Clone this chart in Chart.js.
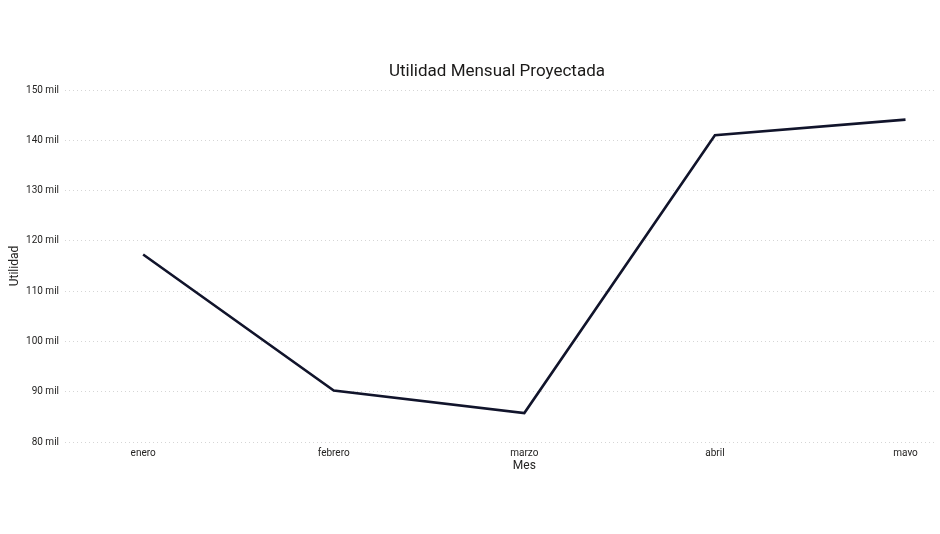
<!DOCTYPE html>
<html>
<head>
<meta charset="utf-8">
<script src="https://cdn.jsdelivr.net/npm/chart.js@4.4.1/dist/chart.umd.min.js"></script>
<style>
html,body{margin:0;padding:0;background:#fff;}
#wrap{width:940px;height:534px;position:relative;}
</style>
</head>
<body>
<div id="wrap"><canvas id="c" width="940" height="534"></canvas></div>
<script>
const months = ["enero", "febrero", "marzo", "abril", "mayo"];
const utilidad = [117300, 90250, 85750, 141000, 144100];
const yTicks = [80000, 90000, 100000, 110000, 120000, 130000, 140000, 150000];
const chartTitle = 'Utilidad Mensual Proyectada';
const xTitle = 'Mes';

const points = months.map((m, i) => ({ x: i, y: utilidad[i] }));

const titlesPlugin = {
  id: 'titles',
  afterDraw(chart) {
    const { ctx, chartArea } = chart;
    ctx.save();
    ctx.textAlign = 'center';
    ctx.textBaseline = 'middle';
    ctx.fillStyle = '#1b1a19';
    ctx.font = '17px Roboto';
    ctx.fillText(chartTitle, 497, chartArea.top - 18);
    ctx.fillStyle = '#252423';
    ctx.font = '12px Roboto';
    ctx.fillText(xTitle, chart.scales.x.getPixelForValue(2), chartArea.bottom + 24);
    ctx.restore();
  }
};

new Chart(document.getElementById('c'), {
  type: 'line',
  data: {
    datasets: [{
      label: 'Utilidad',
      data: points,
      borderColor: '#11142b',
      borderWidth: 2.6,
      pointRadius: 0,
      tension: 0,
      fill: false
    }]
  },
  plugins: [titlesPlugin],
  options: {
    responsive: false,
    animation: false,
    layout: { padding: { top: 90, left: 8, right: 4, bottom: 78 } },
    plugins: {
      legend: { display: false },
      tooltip: { enabled: false },
      title: { display: false }
    },
    scales: {
      x: {
        type: 'linear',
        min: -0.41,
        max: 4.16,
        afterBuildTicks: (axis) => { axis.ticks = months.map((m, i) => ({ value: i })); },
        ticks: {
          callback: (v) => months[v],
          color: '#252423',
          font: { family: 'Roboto', size: 10 },
          padding: -3,
          maxRotation: 0
        },
        grid: { display: false },
        border: { display: false }
      },
      y: {
        min: 80000,
        max: 150000,
        afterBuildTicks: (axis) => { axis.ticks = yTicks.map(v => ({ value: v })); },
        afterFit: (axis) => { axis.width = 57; },
        ticks: {
          callback: (v) => (v / 1000) + ' mil',
          color: '#252423',
          font: { family: 'Roboto', size: 10 },
          padding: 6
        },
        grid: {
          color: '#d6d6d6',
          lineWidth: 1,
          drawTicks: false
        },
        border: { display: false, dash: [1, 3] },
        title: {
          display: true,
          text: 'Utilidad',
          color: '#252423',
          font: { family: 'Roboto', size: 12 },
          padding: { top: 0, bottom: 4 }
        }
      }
    }
  }
});
</script>
</body>
</html>
